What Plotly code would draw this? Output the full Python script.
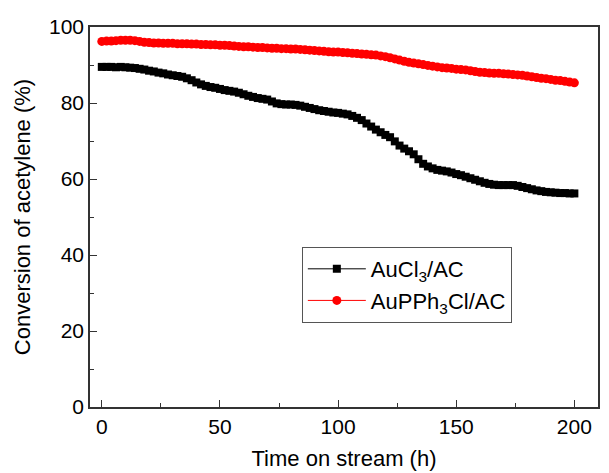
import plotly.graph_objects as go

time_h = list(range(0, 201, 2))

aucl3_ac = [
    89.5, 89.5, 89.5, 89.4, 89.5, 89.4, 89.3, 89.2, 89.0, 88.8,
    88.5, 88.3, 88.0, 87.8, 87.5, 87.3, 87.1, 86.9, 86.5, 86.0,
    85.4, 84.9, 84.5, 84.2, 84.0, 83.7, 83.4, 83.2, 83.0, 82.7,
    82.3, 81.9, 81.6, 81.3, 81.1, 80.9, 80.4, 79.9, 79.7, 79.6,
    79.6, 79.5, 79.3, 79.0, 78.7, 78.4, 78.1, 77.9, 77.7, 77.5,
    77.4, 77.2, 77.0, 76.6, 76.1, 75.5, 74.6, 73.8, 73.0, 72.3,
    71.6, 71.0, 69.9, 68.8, 68.0, 67.3, 66.5, 65.2, 64.0, 63.3,
    62.8, 62.4, 62.2, 62.0, 61.7, 61.3, 61.0, 60.6, 60.2, 59.8,
    59.4, 59.0, 58.7, 58.5, 58.4, 58.4, 58.4, 58.4, 58.2, 57.9,
    57.6, 57.3, 57.0, 56.8, 56.6, 56.5, 56.4, 56.3, 56.3, 56.2,
    56.2,
]

aupph3cl_ac = [
    96.2, 96.3, 96.3, 96.4, 96.5, 96.5, 96.5, 96.4, 96.2, 96.0,
    95.9, 95.8, 95.8, 95.7, 95.7, 95.7, 95.6, 95.6, 95.6, 95.5,
    95.5, 95.4, 95.4, 95.3, 95.3, 95.2, 95.2, 95.1, 95.0, 94.9,
    94.8, 94.8, 94.7, 94.6, 94.6, 94.5, 94.4, 94.4, 94.3, 94.3,
    94.2, 94.2, 94.1, 94.0, 93.9, 93.8, 93.7, 93.6, 93.5, 93.4,
    93.4, 93.3, 93.2, 93.1, 93.0, 92.9, 92.8, 92.7, 92.6, 92.4,
    92.2, 91.9, 91.6, 91.3, 91.0, 90.7, 90.5, 90.3, 90.1, 89.9,
    89.7, 89.5, 89.3, 89.2, 89.1, 88.9, 88.8, 88.7, 88.5, 88.3,
    88.1, 88.0, 87.9, 87.8, 87.8, 87.7, 87.6, 87.5, 87.4, 87.3,
    87.1, 86.9, 86.7, 86.5, 86.4, 86.2, 86.0, 85.9, 85.7, 85.5,
    85.3,
]

x_ticks = [0, 50, 100, 150, 200]
y_ticks = [0, 20, 40, 60, 80, 100]

FONT = "Liberation Sans, Arial, sans-serif"

fig = go.Figure()
fig.add_trace(go.Scatter(
    x=time_h, y=aucl3_ac, mode="lines+markers", name="AuCl<sub>3</sub>/AC",
    line=dict(color="black", width=1),
    marker=dict(symbol="square", size=8, color="black", line=dict(width=0)),
))
fig.add_trace(go.Scatter(
    x=time_h, y=aupph3cl_ac, mode="lines+markers", name="AuPPh<sub>3</sub>Cl/AC",
    line=dict(color="red", width=1),
    marker=dict(symbol="circle", size=9, color="red", line=dict(width=0)),
))

axis_common = dict(
    showgrid=False, zeroline=False, showline=True, linecolor="#333333", linewidth=1.5,
    mirror=True, ticks="inside", ticklen=7, tickwidth=1.2, tickcolor="#333333",
    tickfont=dict(family=FONT, size=21, color="black"),
)

fig.update_xaxes(
    range=[-5, 210], tickvals=x_ticks,
    minor=dict(ticks="inside", ticklen=4, tickcolor="#333333", dtick=25, tick0=0),
    title=dict(text="Time on stream (h)", font=dict(family=FONT, size=22, color="black"), standoff=14),
    **axis_common,
)
fig.update_yaxes(
    range=[0, 100], tickvals=y_ticks,
    minor=dict(ticks="inside", ticklen=4, tickcolor="#333333", dtick=10, tick0=0),
    title=dict(text="Conversion of acetylene (%)", font=dict(family=FONT, size=22, color="black"), standoff=12),
    **axis_common,
)

fig.update_layout(
    width=609, height=473,
    margin=dict(l=90, r=11, t=27, b=66, autoexpand=False),
    paper_bgcolor="white", plot_bgcolor="white",
    font=dict(family=FONT, color="black"),
    legend=dict(
        x=0.417, y=0.421, xanchor="left", yanchor="top",
        bgcolor="white", bordercolor="#555555", borderwidth=1,
        font=dict(family=FONT, size=22, color="black"),
        itemwidth=58, tracegroupgap=2,
    ),
)

fig.write_html("out.html")
